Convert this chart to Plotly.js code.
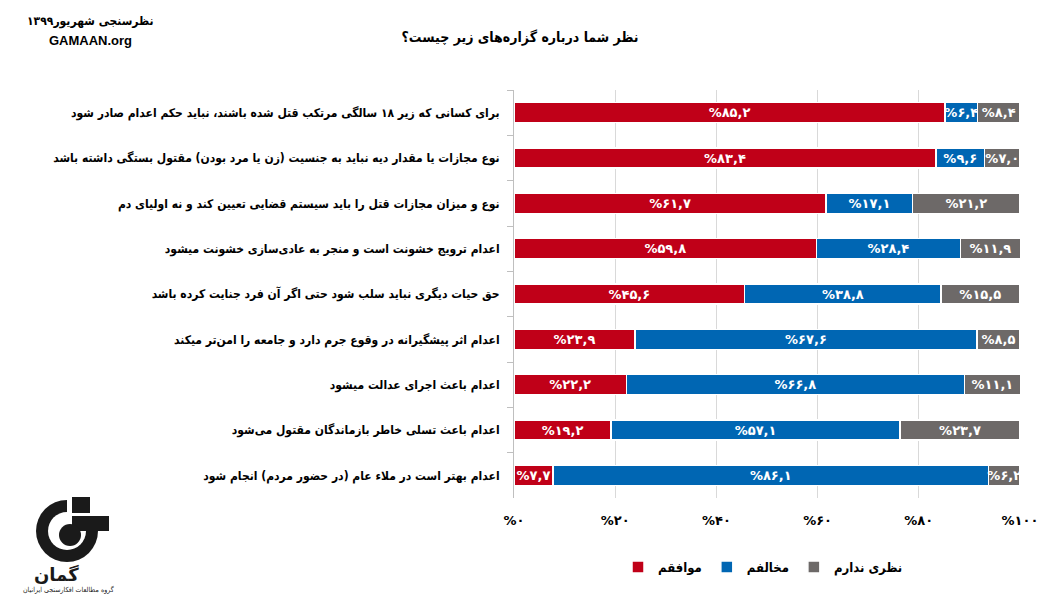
<!DOCTYPE html>
<html>
<head>
<meta charset="utf-8">
<script src="https://cdn.plot.ly/plotly-3.0.1.min.js"></script>
<style>html,body{margin:0;padding:0;background:#fff;}#chart{width:1060px;height:597px;}</style>
</head>
<body>
<div id="chart"></div>
<script>
const categories = [
  'برای کسانی که زیر ۱۸ سالگی مرتکب قتل شده باشند، نباید حکم اعدام صادر شود',
  'نوع مجازات یا مقدار دیه نباید به جنسیت (زن یا مرد بودن) مقتول بستگی داشته باشد',
  'نوع و میزان مجازات قتل را باید سیستم قضایی تعیین کند و نه اولیای دم',
  'اعدام ترویج خشونت است و منجر به عادی‌سازی خشونت میشود',
  'حق حیات دیگری نباید سلب شود حتی اگر آن فرد جنایت کرده باشد',
  'اعدام اثر پیشگیرانه در وقوع جرم دارد و جامعه را امن‌تر میکند',
  'اعدام باعث اجرای عدالت میشود',
  'اعدام باعث تسلی خاطر بازماندگان مقتول می‌شود',
  'اعدام بهتر است در ملاء عام (در حضور مردم) انجام شود'
];
const agree     = [85.2, 83.4, 61.7, 59.8, 45.6, 23.9, 22.2, 19.2, 7.7];
const disagree  = [6.4, 9.6, 17.1, 28.4, 38.8, 67.6, 66.8, 57.1, 86.1];
const noOpinion = [8.4, 7.0, 21.2, 11.9, 15.5, 8.5, 11.1, 23.7, 6.2];
const seriesNames = ['موافقم', 'مخالفم', 'نظری ندارم'];
const tickVals = [0, 20, 40, 60, 80, 100];
const tickLabels = ['%۰', '%۲۰', '%۴۰', '%۶۰', '%۸۰', '%۱۰۰'];

const colors = ['#C00018', '#0066B3', '#6D6968'];
const FONT = 'DejaVu Sans, Noto Sans, sans-serif';
const FONTC = 'DejaVu Sans Condensed, DejaVu Sans, sans-serif';

function fa(v) {
  const d = '۰۱۲۳۴۵۶۷۸۹';
  return '%' + v.toFixed(1).replace('.', ',').replace(/[0-9]/g, c => d[+c]);
}

const series = [agree, disagree, noOpinion];
const traces = series.map((vals, i) => ({
  type: 'bar',
  orientation: 'h',
  name: seriesNames[i],
  y: categories,
  x: vals,
  text: vals.map(fa),
  textposition: 'inside',
  insidetextanchor: 'middle',
  textfont: {family: FONT, size: 13, color: '#ffffff', weight: 'bold'},
  marker: {color: colors[i], line: {color: '#ffffff', width: 1.5}},
  hoverinfo: 'skip'
}));

// pixel -> paper helpers
const L = 514, R = 1020, T = 90, B = 498;
const X = px => (px - L) / (R - L);
const Y = py => (B - py) / (B - T);

function pshape(type, x0, x1, y0, y1, color) {
  return {type: type, xref: 'paper', yref: 'paper', layer: 'above',
          x0: X(x0), x1: X(x1), y0: Y(y1), y1: Y(y0),
          fillcolor: color, line: {width: 0}};
}
const logoShapes = [
  pshape('circle', 36, 98, 500, 562, '#1a1a1a'),
  pshape('circle', 48, 86, 512, 550, '#ffffff'),
  pshape('rect', 67, 112, 496, 531, '#ffffff'),
  pshape('rect', 72, 90, 497, 513, '#1a1a1a'),
  pshape('rect', 72, 109, 516, 531, '#1a1a1a'),
  pshape('circle', 59, 81, 524, 546, '#1a1a1a')
];

const layout = {
  width: 1060, height: 597,
  paper_bgcolor: '#ffffff', plot_bgcolor: '#ffffff',
  margin: {l: L, r: 1060 - R, t: T, b: 597 - B},
  barmode: 'stack',
  bargap: 0.56,
  showlegend: true,
  title: {
    text: 'نظر شما درباره گزاره‌های زیر چیست؟',
    x: 520 / 1060, xref: 'container', xanchor: 'center',
    y: 1 - 37 / 597, yref: 'container', yanchor: 'middle',
    font: {family: FONTC, size: 14, color: '#000', weight: 'bold'}
  },
  xaxis: {
    range: [0, 100],
    tickvals: tickVals, ticktext: tickLabels,
    showgrid: true, gridcolor: '#d9d9d9', gridwidth: 1,
    zeroline: false, showline: false, ticks: '',
    ticklabelstandoff: 13,
    tickfont: {family: FONT, size: 13, color: '#000', weight: 'bold'},
    fixedrange: true
  },
  yaxis: {
    type: 'category',
    autorange: 'reversed',
    showline: true, linecolor: '#bfbfbf', linewidth: 1,
    ticks: 'outside', tickson: 'boundaries', ticklen: 6, tickcolor: '#bfbfbf',
    showgrid: false,
    ticklabelstandoff: 11,
    tickfont: {family: FONTC, size: 12, color: '#000', weight: 'bold'},
    fixedrange: true
  },
  uniformtext: {mode: 'show', minsize: 13},
  legend: {
    orientation: 'h',
    x: X(763), xanchor: 'center',
    y: Y(567), yanchor: 'middle',
    font: {family: FONTC, size: 13, color: '#000', weight: 'bold'},
    traceorder: 'normal'
  },
  shapes: logoShapes,
  annotations: [
    {xref: 'paper', yref: 'paper', x: X(90), y: Y(22), text: 'نظرسنجی شهریور۱۳۹۹', showarrow: false,
     xanchor: 'center', yanchor: 'middle', font: {family: FONTC, size: 12, color: '#000', weight: 'bold'}},
    {xref: 'paper', yref: 'paper', x: X(90), y: Y(40), text: 'GAMAAN.org', showarrow: false,
     xanchor: 'center', yanchor: 'middle', font: {family: 'Liberation Sans, Arial, sans-serif', size: 13, color: '#000', weight: 'bold'}},
    {xref: 'paper', yref: 'paper', x: X(56), y: Y(574), text: 'گمان', showarrow: false,
     xanchor: 'center', yanchor: 'middle', font: {family: FONT, size: 18, color: '#1a1a1a', weight: 'bold'}},
    {xref: 'paper', yref: 'paper', x: X(68), y: Y(589), text: 'گروه مطالعات افکارسنجی ایرانیان', showarrow: false,
     xanchor: 'center', yanchor: 'middle', font: {family: FONTC, size: 7, color: '#1a1a1a'}}
  ]
};

Plotly.newPlot('chart', traces, layout, {displayModeBar: false, responsive: false});
</script>
</body>
</html>
